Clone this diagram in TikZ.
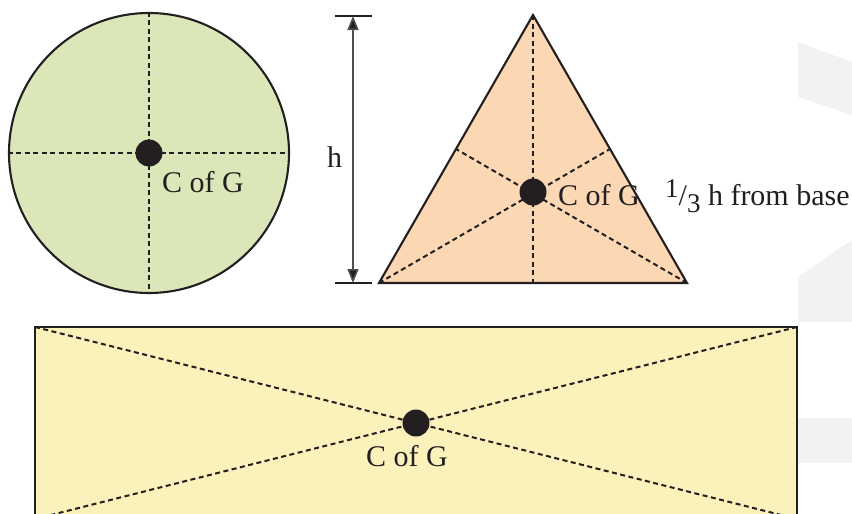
\documentclass[tikz,border=0pt]{standalone}
\usepackage{fontspec}
\setmainfont{Liberation Serif}
\usetikzlibrary{arrows.meta}
\definecolor{ink}{HTML}{231F20}
\definecolor{discfill}{HTML}{DCE7B9}
\definecolor{trifill}{HTML}{FBD7B3}
\definecolor{rectfill}{HTML}{FBF1BA}
\definecolor{shadegray}{HTML}{F1F2F2}
\begin{document}
\begin{tikzpicture}[x=1pt,y=-1pt,
  outline/.style={draw=ink,line width=2.1pt},
  guide/.style={draw=ink,line width=2pt,dash pattern=on 5pt off 3.5pt},
  cog/.style={circle,fill=ink,inner sep=0pt,minimum size=27pt},
  lbl/.style={font=\fontsize{30}{33}\selectfont,text=ink,inner sep=0pt,anchor=base west},
  backshape/.style={fill=shadegray}]
\useasboundingbox (0,0) rectangle (852,514);
\clip (0,0) rectangle (852,514);
% background gray shapes
\fill[backshape] (798,42) -- (852,62) -- (852,115) -- (798,97) -- cycle;
\fill[backshape] (798,277) -- (852,240) -- (852,322) -- (798,322) -- cycle;
\fill[backshape] (798,418) rectangle (852,463);
% circle
\node[circle,minimum size=280pt,inner sep=0pt,fill=discfill,outline] (disc) at (149,153) {};
\draw[guide] (disc.north) -- (disc.south);
\draw[guide] (disc.west) -- (disc.east);
\node[cog] (c1) at (disc.center) {};
\node[lbl] (t1) at (162,192) {C of G};
% triangle
\coordinate (apex) at (533,15);
\coordinate (bl) at (379,283);
\coordinate (br) at (687,283);
\coordinate (mb) at (533,283);
\coordinate (ml) at (456,149);
\coordinate (mr) at (610,149);
\fill[trifill] (apex) -- (bl) -- (br) -- cycle;
\draw[guide] (apex) -- (mb);
\draw[guide] (bl) -- (mr);
\draw[guide] (br) -- (ml);
\draw[outline,line join=miter] (apex) -- (bl) -- (br) -- cycle;
\node[cog] (c2) at (533,192) {};
\node[lbl] (t2) at (558,205) {C of G};
\node[lbl] (t3) at (665,205) {\raisebox{8pt}{\fontsize{27}{29}\selectfont 1}/\raisebox{-7pt}{\fontsize{27}{29}\selectfont 3} h from base};
% dimension line
\coordinate (tl) at (335,16);
\coordinate (tr) at (372,16);
\coordinate (bbl) at (335,283);
\coordinate (bbr) at (372,283);
\coordinate (ht) at (353,16);
\coordinate (hb) at (353,283);
\draw[draw=ink,line width=1.8pt] (tl) -- (tr);
\draw[draw=ink,line width=1.8pt] (bbl) -- (bbr);
\draw[draw=ink!80,line width=1.6pt,{Triangle[length=14pt,width=11pt,fill=ink]}-{Triangle[length=14pt,width=11pt,fill=ink]}] (ht) -- (hb);
\node[lbl] (h) at (327,167) {h};
% rectangle
\coordinate (rtl) at (35,327);
\coordinate (rbr) at (797,519);
\coordinate (rtr) at (797,327);
\coordinate (rbl) at (35,519);
\fill[rectfill] (rtl) rectangle (rbr);
\draw[guide] (rtl) -- (rbr);
\draw[guide] (rtr) -- (rbl);
\draw[outline] (rtl) rectangle (rbr);
\node[cog] (c3) at (416,423) {};
\node[lbl] (t4) at (366,466) {C of G};
\end{tikzpicture}
\end{document}
